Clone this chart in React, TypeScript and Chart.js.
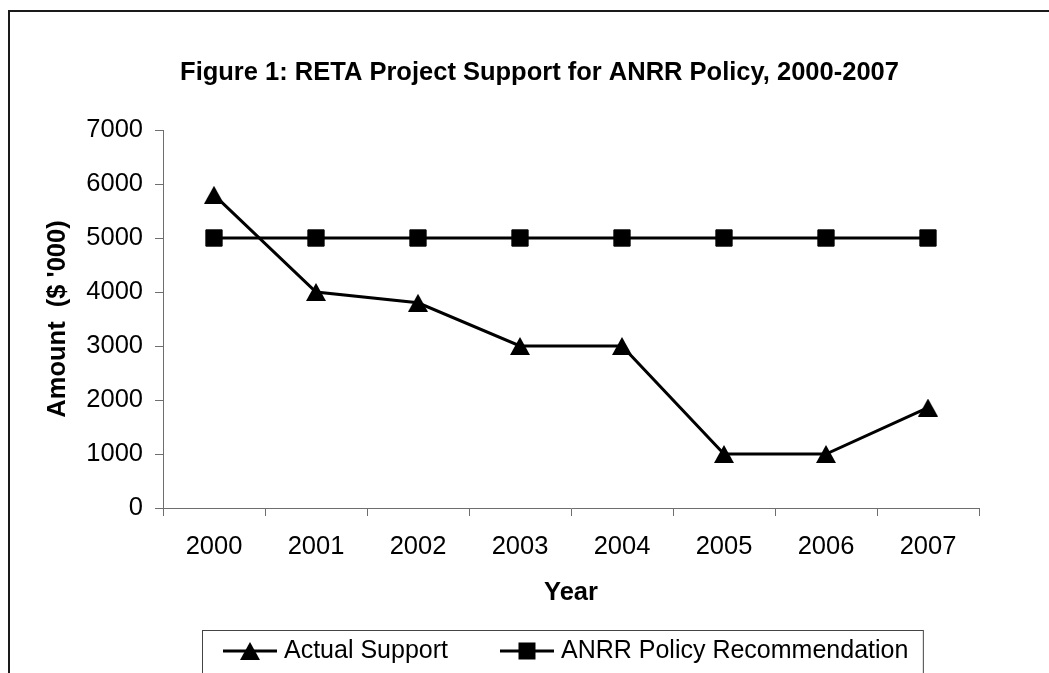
import React, { useEffect, useRef } from 'react';
import { Chart, registerables } from 'chart.js';

Chart.register(...registerables);

const years = ['2000', '2001', '2002', '2003', '2004', '2005', '2006', '2007'];
const actualSupport = [5800, 4000, 3800, 3000, 3000, 1000, 1000, 1860];
const policyRecommendation = [5000, 5000, 5000, 5000, 5000, 5000, 5000, 5000];
const seriesLabels = ['Actual Support', 'ANRR Policy Recommendation'];
const yMin = 0;
const yMax = 7000;
const yStep = 1000;
const chartTitle = 'Figure 1: RETA Project Support for ANRR Policy, 2000-2007';
const xTitle = 'Year';
const yTitle = "Amount  ($ '000)";

const FONT = "'Liberation Sans', Arial, sans-serif";
const AXIS_GRAY = '#6e6e6e';

function makeTriangle(): HTMLCanvasElement {
  const c = document.createElement('canvas');
  c.width = 20;
  c.height = 18;
  const g = c.getContext('2d')!;
  g.fillStyle = '#000';
  g.beginPath();
  g.moveTo(10, 0);
  g.lineTo(20, 18);
  g.lineTo(0, 18);
  g.closePath();
  g.fill();
  return c;
}

export default function App() {
  const ref = useRef<HTMLCanvasElement | null>(null);

  useEffect(() => {
    document.body.style.margin = '0';
    const canvas = ref.current;
    if (!canvas) return;
    const tri = makeTriangle();

    const decor = {
      id: 'decor',
      beforeDraw(chart: any) {
        const ctx = chart.ctx;
        ctx.save();
        ctx.fillStyle = '#fff';
        ctx.fillRect(0, 0, chart.width, chart.height);
        ctx.strokeStyle = '#1a1a1a';
        ctx.lineWidth = 2;
        ctx.strokeRect(9, 11, 3000, 3000);
        ctx.restore();
      },
      afterDraw(chart: any) {
        const ctx = chart.ctx;
        ctx.save();
        // title
        ctx.fillStyle = '#000';
        ctx.font = `bold 25.5px ${FONT}`;
        ctx.textAlign = 'center';
        ctx.textBaseline = 'middle';
        ctx.fillText(chartTitle, 539.5, 73);

        // legend
        ctx.font = `25px ${FONT}`;
        ctx.textAlign = 'left';
        const y = 651;
        let x0 = 223;
        let lastEnd = x0;
        chart.data.datasets.forEach((ds: any, i: number) => {
          ctx.strokeStyle = '#000';
          ctx.lineWidth = 3;
          ctx.beginPath();
          ctx.moveTo(x0, y);
          ctx.lineTo(x0 + 54, y);
          ctx.stroke();
          const mx = x0 + 27;
          if (i === 0) {
            ctx.drawImage(tri, mx - 10, y - 9);
          } else {
            ctx.fillStyle = '#000';
            ctx.fillRect(mx - 8.5, y - 8.5, 17, 17);
          }
          ctx.fillStyle = '#000';
          ctx.fillText(ds.label, x0 + 61, y);
          const w = ctx.measureText(ds.label).width;
          lastEnd = x0 + 61 + w;
          x0 = lastEnd + 52;
        });
        ctx.strokeStyle = '#444';
        ctx.lineWidth = 1;
        ctx.strokeRect(202.5, 630.5, lastEnd + 15 - 202.5, 100);
        ctx.restore();
      },
    };

    const chart = new Chart(canvas, {
      type: 'line',
      data: {
        labels: years,
        datasets: [
          {
            label: seriesLabels[0],
            data: actualSupport,
            borderColor: '#000',
            backgroundColor: '#000',
            borderWidth: 3,
            pointStyle: tri as any,
            pointRadius: 10,
            pointHoverRadius: 10,
            tension: 0,
          },
          {
            label: seriesLabels[1],
            data: policyRecommendation,
            borderColor: '#000',
            backgroundColor: '#000',
            borderWidth: 3,
            pointStyle: 'rect',
            pointRadius: 11.5,
            pointHoverRadius: 11.5,
            pointBorderWidth: 1,
            pointBackgroundColor: '#000',
            pointBorderColor: '#000',
            tension: 0,
          },
        ],
      },
      options: {
        responsive: false,
        animation: false,
        events: [],
        layout: { padding: { left: 0, right: 70, top: 130, bottom: 65 } },
        plugins: {
          legend: { display: false },
          title: { display: false },
          tooltip: { enabled: false },
        },
        scales: {
          x: {
            type: 'category',
            offset: true,
            grid: {
              offset: true,
              drawOnChartArea: false,
              drawTicks: true,
              tickLength: 8,
              color: AXIS_GRAY,
            },
            border: { display: true, color: AXIS_GRAY, width: 1 },
            ticks: {
              color: '#000',
              font: { family: FONT, size: 25.5 },
              padding: 16,
              maxRotation: 0,
              autoSkip: false,
            },
            title: {
              display: true,
              text: xTitle,
              color: '#000',
              font: { family: FONT, size: 25.5, weight: 'bold' },
              padding: { top: 15.5, bottom: 0 },
            },
            afterFit(scale: any) {
              scale.height = 100;
            },
          },
          y: {
            min: yMin,
            max: yMax,
            grid: {
              drawOnChartArea: false,
              drawTicks: true,
              tickLength: 8,
              color: AXIS_GRAY,
            },
            border: { display: true, color: AXIS_GRAY, width: 1 },
            ticks: {
              stepSize: yStep,
              color: '#000',
              font: { family: FONT, size: 25.5 },
              padding: 12,
              callback: (v: any) => String(v),
            },
            title: {
              display: true,
              text: yTitle,
              color: '#000',
              font: { family: FONT, size: 25.5, weight: 'bold' },
              padding: { top: 43, bottom: 10 },
            },
            afterFit(scale: any) {
              scale.width = 163;
            },
          },
        },
      },
      plugins: [decor],
    });

    return () => {
      chart.destroy();
    };
  }, []);

  return (
    <div style={{ position: 'fixed', left: 0, top: 0, width: 1049, height: 673, overflow: 'hidden', background: '#fff' }}>
      <canvas ref={ref} width={1049} height={673} style={{ display: 'block' }} />
    </div>
  );
}
